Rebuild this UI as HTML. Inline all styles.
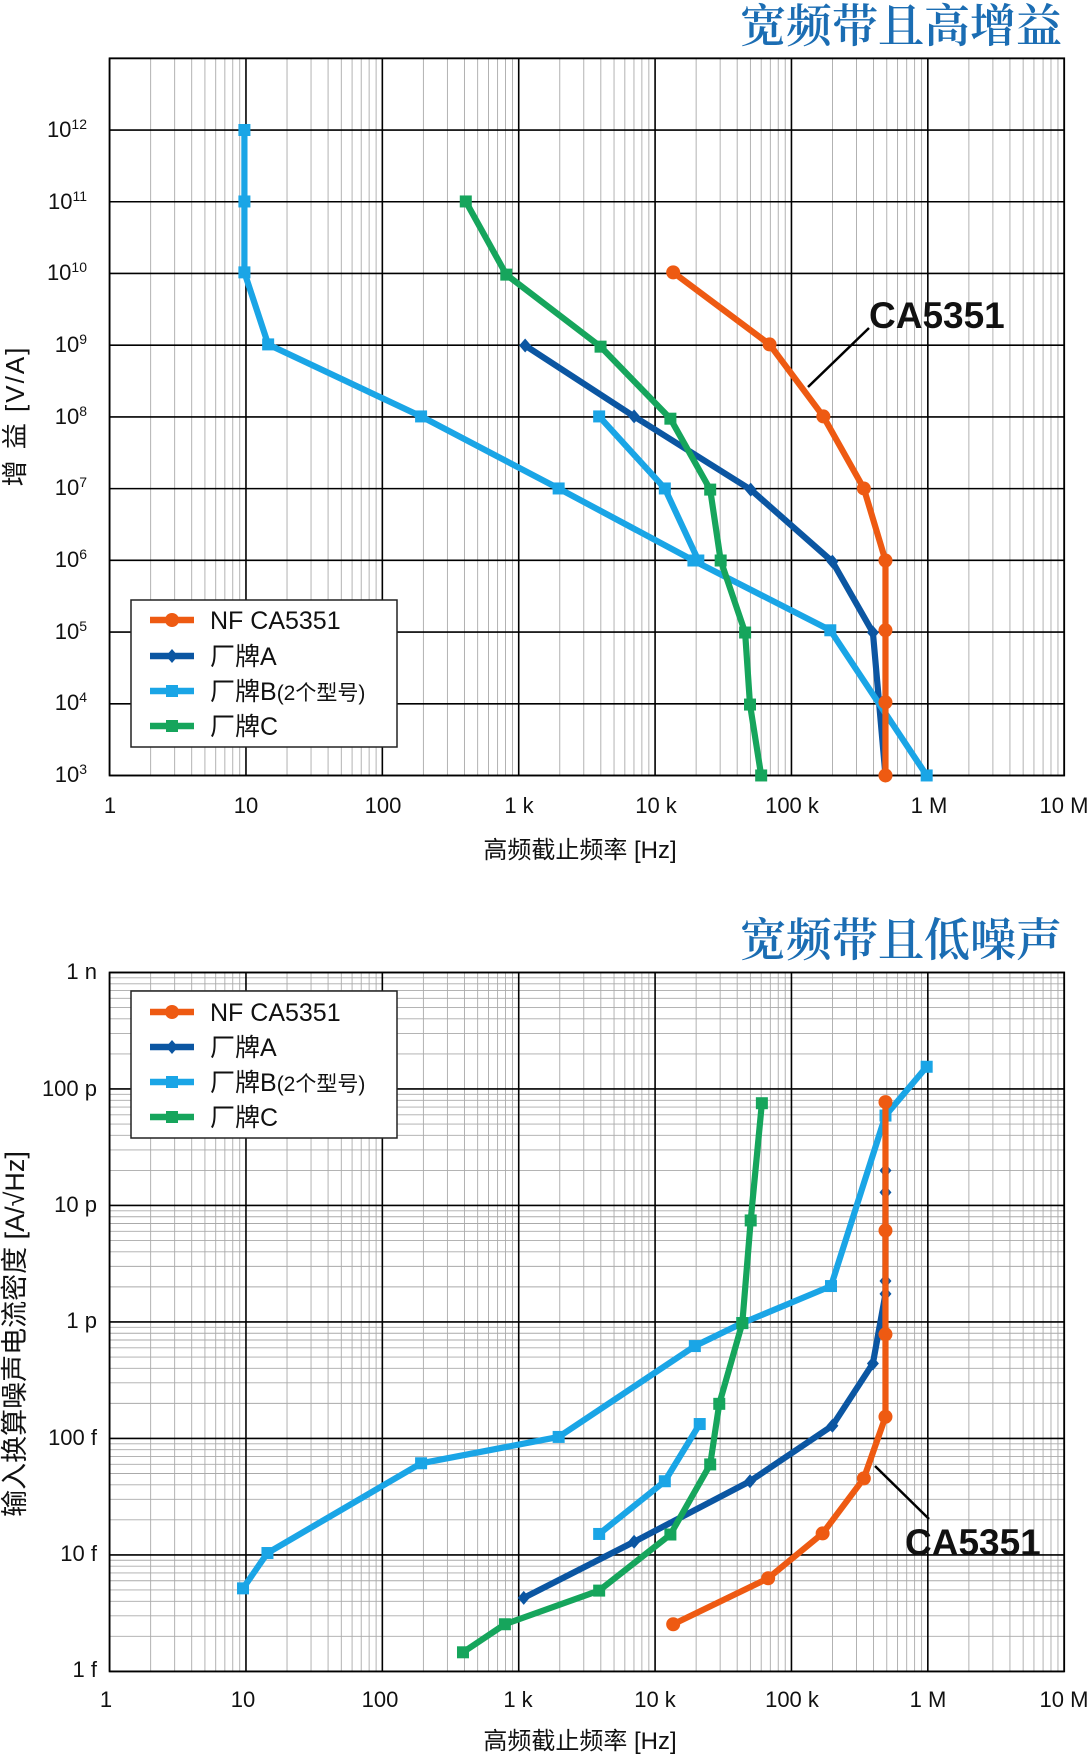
<!DOCTYPE html>
<html><head><meta charset="utf-8">
<style>
html,body{margin:0;padding:0;background:#fff;}
svg{display:block;}
text{font-family:"Liberation Sans","Noto Sans CJK SC",sans-serif;fill:#111;}
.ttl{font-family:"Liberation Serif","Noto Serif CJK SC",serif;fill:#1b6db3;font-size:46px;font-weight:600;}
.tk{font-size:22px;}
.lg{font-size:25px;}
</style></head>
<body>
<svg id="s" width="1092" height="1757" viewBox="0 0 1092 1757" xmlns="http://www.w3.org/2000/svg">
<g id="g"></g>
<text class="ttl" x="1062" y="42" text-anchor="end">宽频带且高增益</text>
<text class="ttl" x="1062" y="956" text-anchor="end">宽频带且低噪声</text>
<g class="tk" text-anchor="middle">
<text x="110" y="813">1</text><text x="246" y="813">10</text><text x="383" y="813">100</text>
<text x="519" y="813">1 k</text><text x="656" y="813">10 k</text><text x="792" y="813">100 k</text>
<text x="929" y="813">1 M</text><text x="1064" y="813">10 M</text>
</g>
<text x="580" y="858" text-anchor="middle" style="font-size:24px">高频截止频率 [Hz]</text>
<g class="tk" text-anchor="end">
<text x="87" y="137">10<tspan dy="-8" font-size="14">12</tspan></text>
<text x="87" y="209">10<tspan dy="-8" font-size="14">11</tspan></text>
<text x="87" y="280">10<tspan dy="-8" font-size="14">10</tspan></text>
<text x="87" y="352">10<tspan dy="-8" font-size="14">9</tspan></text>
<text x="87" y="424">10<tspan dy="-8" font-size="14">8</tspan></text>
<text x="87" y="495">10<tspan dy="-8" font-size="14">7</tspan></text>
<text x="87" y="567">10<tspan dy="-8" font-size="14">6</tspan></text>
<text x="87" y="639">10<tspan dy="-8" font-size="14">5</tspan></text>
<text x="87" y="710">10<tspan dy="-8" font-size="14">4</tspan></text>
<text x="87" y="782">10<tspan dy="-8" font-size="14">3</tspan></text>
</g>
<text transform="translate(24,416) rotate(-90)" text-anchor="middle" style="font-size:26px;letter-spacing:2px">增 益 [V/A]</text>
<g class="tk" text-anchor="middle">
<text x="106" y="1707">1</text><text x="243" y="1707">10</text><text x="380" y="1707">100</text>
<text x="518" y="1707">1 k</text><text x="655" y="1707">10 k</text><text x="792" y="1707">100 k</text>
<text x="928" y="1707">1 M</text><text x="1064" y="1707">10 M</text>
</g>
<text x="580" y="1749" text-anchor="middle" style="font-size:24px">高频截止频率 [Hz]</text>
<g class="tk" text-anchor="end">
<text x="97" y="979">1 n</text><text x="97" y="1096">100 p</text><text x="97" y="1212">10 p</text>
<text x="97" y="1328">1 p</text><text x="97" y="1445">100 f</text><text x="97" y="1561">10 f</text><text x="97" y="1677">1 f</text>
</g>
<text transform="translate(24,1334) rotate(-90)" text-anchor="middle" style="font-size:27px">输入换算噪声电流密度 [A/√Hz]</text>
<text x="869" y="328" style="font-size:37px;font-weight:bold">CA5351</text>
<line x1="869" y1="328" x2="808" y2="387" stroke="#000" stroke-width="2.5"/>
<text x="905" y="1555" style="font-size:37px;font-weight:bold">CA5351</text>
<line x1="875" y1="1466" x2="929" y2="1519" stroke="#000" stroke-width="2.5"/>
<rect x="131" y="600" width="266" height="147" fill="#fff" stroke="#222" stroke-width="1.5"/>
<g class="lg">
<text x="210" y="629">NF CA5351</text><text x="210" y="665">厂牌A</text>
<text x="210" y="700">厂牌B<tspan font-size="21">(2个型号)</tspan></text><text x="210" y="735">厂牌C</text>
</g>
<rect x="131" y="991" width="266" height="147" fill="#fff" stroke="#222" stroke-width="1.5"/>
<g class="lg">
<text x="210" y="1021">NF CA5351</text><text x="210" y="1056">厂牌A</text>
<text x="210" y="1091">厂牌B<tspan font-size="21">(2个型号)</tspan></text><text x="210" y="1126">厂牌C</text>
</g>
<g id="lm"></g>
</svg>
<script>
var NS="http://www.w3.org/2000/svg",g=document.getElementById('g'),lm=document.getElementById('lm');
function el(p,t,a){var e=document.createElementNS(NS,t);for(var k in a)e.setAttribute(k,a[k]);p.appendChild(e);return e;}
var L=109.6,R=1064.2,D=(R-L)/7;
function grid(T,B,dec,minorH){
 var dy=(B-T)/dec;
 for(var d=0;d<7;d++)for(var m=2;m<10;m++){var x=L+D*(d+Math.log10(m));el(g,'line',{x1:x,x2:x,y1:T,y2:B,stroke:'#aaa','stroke-width':0.9});}
 if(minorH)for(var d=0;d<dec;d++)for(var m=2;m<10;m++){var y=B-dy*(d+Math.log10(m));el(g,'line',{x1:L,x2:R,y1:y,y2:y,stroke:'#aaa','stroke-width':0.9});}
 for(var d=0;d<=7;d++){var x=L+D*d;el(g,'line',{x1:x,x2:x,y1:T,y2:B,stroke:'#000','stroke-width':1.6});}
 for(var d=0;d<=dec;d++){var y=B-dy*d;el(g,'line',{x1:L,x2:R,y1:y,y2:y,stroke:'#000','stroke-width':1.6});}
 el(g,'rect',{x:L,y:T,width:R-L,height:B-T,fill:'none',stroke:'#000','stroke-width':1.8});
}
grid(58.3,775.5,10,false);
grid(972.5,1671.4,6,true);
var C={o:'#ee5a12',a:'#0b56a2',b:'#1aa5e6',c:'#16a55c'};
function mk(p,x,y,t,c){
 if(t=='o')el(p,'circle',{cx:x,cy:y,r:7,fill:c});
 else if(t=='a')el(p,'polygon',{points:(x)+','+(y-7)+' '+(x+6)+','+y+' '+x+','+(y+7)+' '+(x-6)+','+y,fill:c});
 else el(p,'rect',{x:x-6,y:y-6,width:12,height:12,fill:c});
}
function ser(pts,t,oy,fy){
 var c=C[t],P=pts.map(function(p){return [p[0]/1.432,p[1]/fy+oy];});
 el(g,'polyline',{points:P.map(function(p){return p.join(',')}).join(' '),fill:'none',stroke:c,'stroke-width':6.2,'stroke-linejoin':'round'});
 P.forEach(function(p){mk(g,p[0],p[1],t,c);});
}
var f1=1.777;
ser([[752,614],[908,740],[1075,870],[1192,998],[1250,1124],[1268,1378]],'a',0,f1);
ser([[350,231],[350,358],[350,484],[384,612],[603,740],[800,868],[993,996],[1189,1120],[1327,1378]],'b',0,f1);
ser([[858,740],[952,868],[1000,996]],'b',0,f1);
ser([[667,358],[725,488],[860,616],[960,744],[1017,870],[1032,996],[1067,1124],[1074,1252],[1090,1378]],'c',0,f1);
ser([[964,484],[1102,612],[1179,740],[1237,868],[1268,996],[1268,1120],[1268,1248],[1268,1378]],'o',0,f1);
var f2=1.783;
ser([[750,1280],[908,1180],[1074,1072],[1192,973],[1250,862],[1268,738],[1268,715],[1268,557],[1268,518]],'a',880,f2);
ser([[348,1263],[383,1200],[603,1040],[800,993],[995,831],[1063,790],[1190,724],[1268,420],[1327,333]],'b',880,f2);
ser([[858,1166],[952,1072],[1002,970]],'b',880,f2);
ser([[663,1377],[723,1327],[858,1267],[960,1167],[1017,1042],[1030,934],[1063,790],[1075,607],[1091,398]],'c',880,f2);
ser([[964,1327],[1100,1245],[1178,1165],[1237,1067],[1268,957],[1268,810],[1268,625],[1268,396]],'o',880,f2);
var ys=[[620,656,691,726],[1012,1047,1082,1117]],ts=['o','a','b','c'];
ys.forEach(function(a){a.forEach(function(y,i){var c=C[ts[i]];el(lm,'line',{x1:150,x2:194,y1:y,y2:y,stroke:c,'stroke-width':6.5});mk(lm,172,y,ts[i],c);});});
</script>
</body></html>
